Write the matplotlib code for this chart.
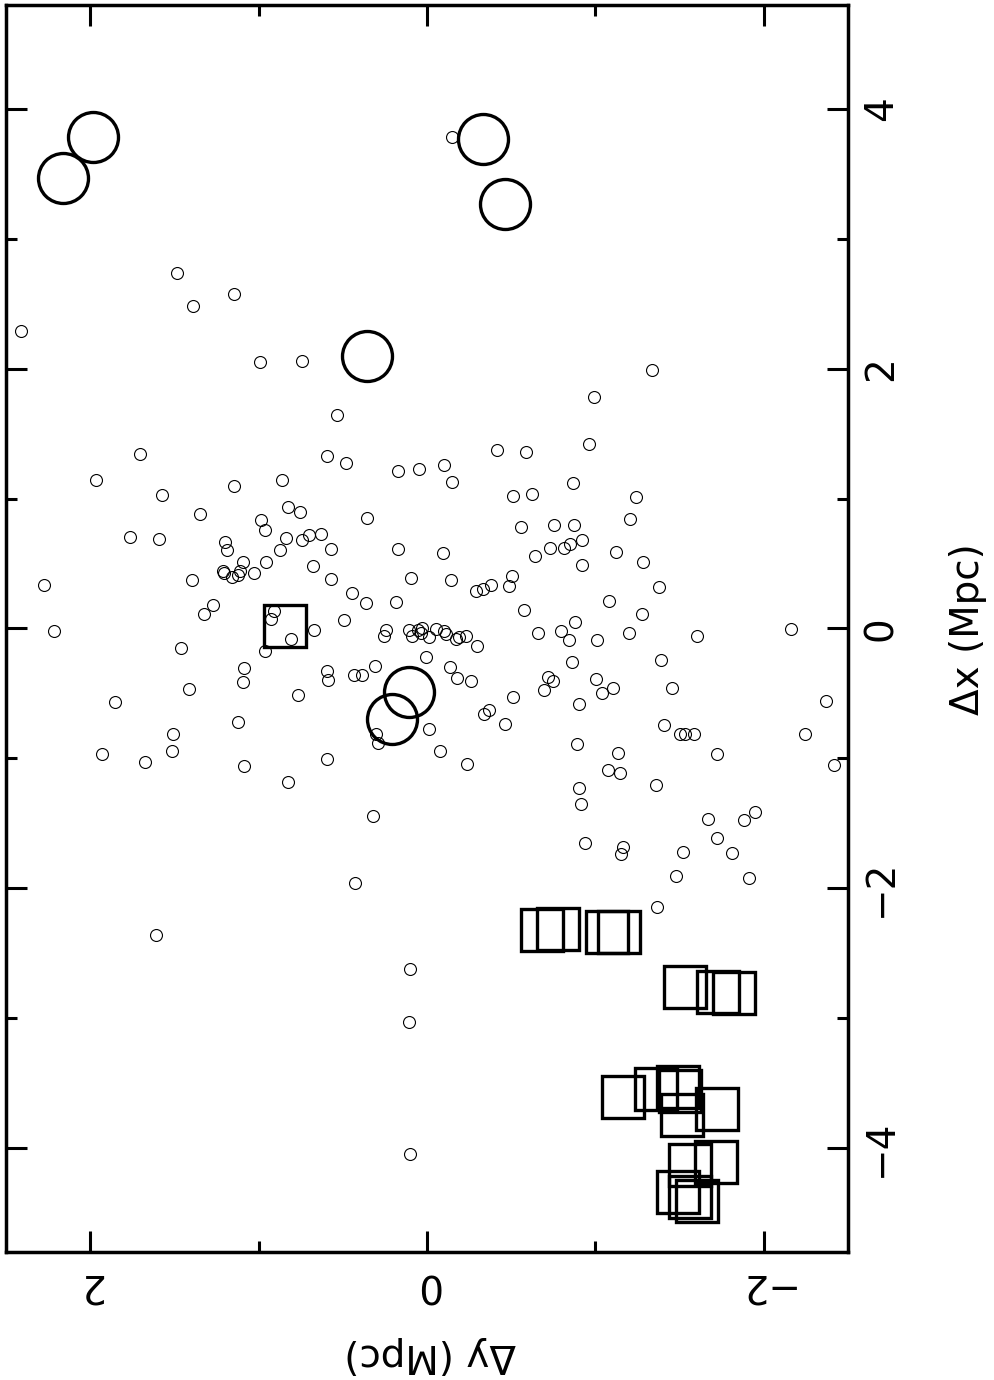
import matplotlib
matplotlib.use("Agg")
import matplotlib.pyplot as plt
from matplotlib.ticker import MultipleLocator

# ---- data (Δy, Δx in Mpc) ----
# small open circles
small_dy = [1.483, 1.147, 1.387, 2.410, 0.991, 0.742, 0.534, 1.707, 0.592, 0.483,
            0.172, 0.047, 1.964, 0.859, 1.145, 1.575, 0.827, 0.752, 0.358, 1.349,
            0.987, 0.963, 1.763, 1.592, 1.197, 0.839, 0.744, 0.700, 0.631,
            1.189, 0.872, 0.568, 0.174, 1.090, 0.955, 1.212, 1.203, 1.155, 1.124,
            1.112, 1.025, 1.393, 2.275, 0.678, 0.570, 0.097, 0.447, 0.360, 0.182,
            1.272, 1.323, 0.906, 0.926, 0.807, 0.672, 0.491, 2.215, 0.245, 0.255,
            0.104, 0.089, 0.052, 0.037, 0.028, -0.012, -0.056, -0.101, -0.111,
            -0.172, -0.190, -0.230, -0.297,
            1.462, 0.960, 0.005, 1.086, 1.092, 0.593, 0.588, 0.433, 0.384, 0.309,
            1.412, 1.850, 0.767, 0.301, 0.290, -0.010, 1.124, 1.509, 1.512, 1.929,
            1.676, 1.088, 0.593, 0.825, 0.322,
            -1.335, -0.993, -0.961, -0.417, -0.586, -0.099, -0.150, -0.865, -0.512,
            -0.621, -1.240, -1.203, -0.556, -0.752, -0.871, -0.922, -0.851, -0.811,
            -0.728, -0.639, -0.095, -1.122, -1.280, -0.922, -0.144, -0.504, -0.489,
            -0.382, -0.334, -0.289, -1.377, -1.078, -0.574, -1.278, -0.878, -2.160,
            -0.659, -0.797, -0.843, -1.009, -1.199, -1.604, -0.135, -0.176, -0.259,
            -0.862, -0.718, -0.750, -0.694, -1.005, -1.040, -1.104, -0.904, -1.389,
            -1.456, -0.510, -0.336, -0.368, -0.461, -0.077, -0.239, -0.892, -1.134,
            -1.076, -1.145, -1.407, -1.503, -1.531, -1.585, -1.725, -2.368, -2.245,
            -2.415, -1.361, -0.900, -0.914, -1.666, -1.885, -1.948, -1.725, -1.814,
            -0.940, -1.165, -1.153, -1.523, -1.476, -1.915, -1.365,
            0.098, 0.107, 0.102, 0.428, 1.608, -0.148]
small_dx = [2.737, 2.575, 2.480, 2.293, 2.049, 2.056, 1.643, 1.340, 1.325, 1.271,
            1.209, 1.227, 1.145, 1.145, 1.097, 1.030, 0.932, 0.896, 0.852, 0.878,
            0.837, 0.755, 0.704, 0.688, 0.665, 0.698, 0.683, 0.716, 0.727,
            0.601, 0.601, 0.614, 0.614, 0.511, 0.511, 0.444, 0.427, 0.396, 0.408,
            0.439, 0.424, 0.370, 0.331, 0.477, 0.383, 0.390, 0.270, 0.198, 0.203,
            0.177, 0.113, 0.131, 0.072, -0.079, -0.015, 0.062, -0.023, -0.010, -0.056,
            -0.012, -0.058, -0.010, -0.035, 0.003, -0.062, -0.008, -0.018, -0.046,
            -0.082, -0.068, -0.056, -0.133,
            -0.149, -0.174, -0.220, -0.308, -0.410, -0.328, -0.395, -0.359, -0.359,
            -0.287, -0.464, -0.570, -0.516, -0.811, -0.885, -0.772, -0.724, -0.809,
            -0.942, -0.968, -1.027, -1.057, -1.004, -1.183, -1.443,
            1.990, 1.782, 1.422, 1.371, 1.361, 1.255, 1.127, 1.117, 1.017,
            1.037, 1.009, 0.845, 0.781, 0.793, 0.796, 0.678, 0.652, 0.616,
            0.619, 0.560, 0.581, 0.585, 0.508, 0.491, 0.375, 0.403, 0.326,
            0.336, 0.303, 0.285, 0.316, 0.213, 0.139, 0.113, 0.046, -0.002,
            -0.033, -0.018, -0.092, -0.089, -0.038, -0.056, -0.293, -0.380, -0.408,
            -0.259, -0.370, -0.408, -0.477, -0.387, -0.495, -0.459, -0.580, -0.241,
            -0.462, -0.528, -0.662, -0.629, -0.739, -0.947, -1.042, -0.886, -0.960,
            -1.088, -1.114, -0.747, -0.811, -0.811, -0.816, -0.963, -0.557, -0.811,
            -1.055, -1.204, -1.229, -1.348, -1.468, -1.476, -1.414, -1.612, -1.727,
            -1.648, -1.681, -1.740, -1.722, -1.902, -1.918, -2.141,
            -2.618, -3.031, -4.043, -1.961, -2.361, 3.785]

# large open circles
big_dy = [1.986, 2.164, -0.332, -0.463, 0.358, 0.107, 0.208]
big_dx = [3.781, 3.465, 3.771, 3.270, 2.100, -0.490, -0.695]

# open squares
sq_dy = [0.846, -0.684, -0.776, -1.068, -1.139, -1.531, -1.728, -1.822,
         -1.166, -1.361, -1.488, -1.500, -1.514, -1.723,
         -1.559, -1.716, -1.488, -1.563, -1.601]
sq_dx = [0.022, -2.320, -2.310, -2.335, -2.335, -2.759, -2.802, -2.806,
         -3.608, -3.549, -3.533, -3.563, -3.748, -3.698,
         -4.127, -4.111, -4.340, -4.374, -4.406]

xtick_vals = [2, 0, -2]
ytick_vals = [-4, -2, 0, 2, 4]
xlabel = "Δy (Mpc)"
ylabel = "Δx (Mpc)"

# ---- figure ----
fig = plt.figure(figsize=(9.94, 13.8), dpi=100)
ax = fig.add_axes([0.006, 0.0928, 0.8471, 0.9036])

ax.plot(small_dy, small_dx, linestyle="none", marker="o", markersize=8.6,
        markerfacecolor="none", markeredgecolor="black", markeredgewidth=0.8)
ax.plot(big_dy, big_dx, linestyle="none", marker="o", markersize=36,
        markerfacecolor="none", markeredgecolor="black", markeredgewidth=2.4)
ax.plot(sq_dy, sq_dx, linestyle="none", marker="s", markersize=30,
        markerfacecolor="none", markeredgecolor="black", markeredgewidth=2.4)

ax.set_xlim(2.5, -2.5)
ax.set_ylim(-4.8, 4.8)

ax.set_xticks(xtick_vals)
ax.set_yticks(ytick_vals)
ax.xaxis.set_minor_locator(MultipleLocator(1))
ax.yaxis.set_minor_locator(MultipleLocator(1))

for s in ax.spines.values():
    s.set_linewidth(2.5)

ax.tick_params(which="both", direction="in", top=True, bottom=True,
               left=True, right=True, labelleft=False, labeltop=False,
               labelbottom=True, labelright=True, labelsize=28, color="black")
ax.tick_params(which="major", length=15, width=2.2)
ax.tick_params(which="minor", length=8, width=2.2)
ax.tick_params(axis="x", which="major", pad=10)
ax.tick_params(axis="y", which="major", pad=10)

for t in ax.get_xticklabels():
    t.set_rotation(180)
for t in ax.get_yticklabels():
    t.set_rotation(90)
    t.set_verticalalignment("center")

fig.text(968 / 994, 1 - 629 / 1380, ylabel, rotation=90, ha="center",
         va="center", fontsize=28)
fig.text(430 / 994, 1 - 1355 / 1380, xlabel, rotation=180, ha="center",
         va="center", fontsize=28)

fig.savefig("out.png", dpi=100)
